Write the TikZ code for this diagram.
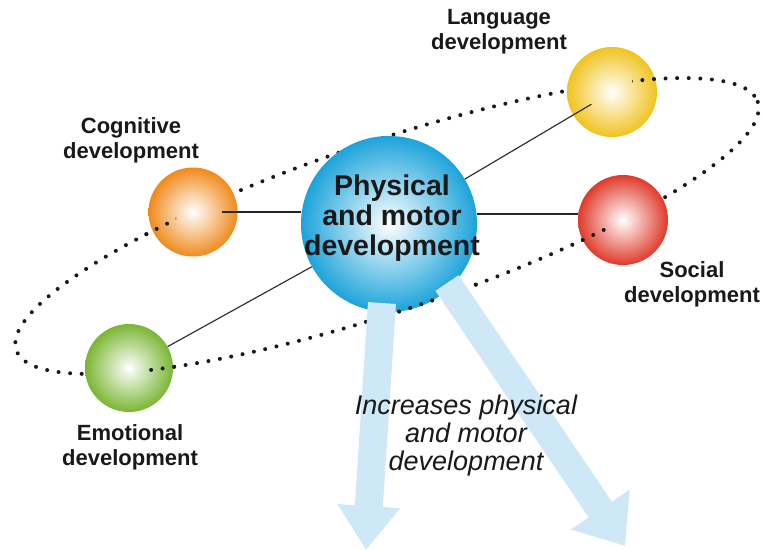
\documentclass[tikz,border=0pt]{standalone}
\usepackage{fontspec}
\setmainfont{Liberation Sans}
\usetikzlibrary{arrows.meta}

\definecolor{physblue}{RGB}{28,163,218}
\definecolor{cogorange}{RGB}{240,138,28}
\definecolor{langyellow}{RGB}{240,195,30}
\definecolor{socred}{RGB}{224,58,42}
\definecolor{emogreen}{RGB}{122,182,50}
\definecolor{arrowblue}{RGB}{207,232,247}
\definecolor{inktext}{RGB}{25,25,25}

\tikzset{
	sphere/.style={circle, draw=none, inner sep=0pt, inner color=white, outer color=#1},
	lbl/.style={font=\bfseries\fontsize{22}{25}\selectfont, align=center, inner sep=0pt, text=inktext},
	maintxt/.style={font=\bfseries\fontsize{28.5}{30}\selectfont, align=center, inner sep=0pt, text=inktext},
	note/.style={font=\itshape\fontsize{27}{28}\selectfont, align=center, inner sep=0pt, text=inktext},
	link/.style={line width=1.1pt, black!85},
	orbit/.style={line width=4pt, line cap=round, dash pattern=on 0pt off 11.6pt, black!90},
	bigarrow/.style={line width=28pt, arrowblue, -{Triangle[width=#1, length=44pt]}}
}
\newcommand{\orbitline}{\draw[orbit, rotate around={18.5:(387,226)}] (387,226) ellipse [x radius=391, y radius=85];}

\begin{document}
\begin{tikzpicture}[x=1pt, y=-1pt]
			%%%%% START %%%%%
			\useasboundingbox (0,0) rectangle (764,550);
			\fill[white] (0,0) rectangle (764,550);
			
			% orbit behind the spheres
			\orbitline
			
			\node[sphere=physblue, minimum size=176pt] (phys) at (389,224) {};
			\node[sphere=cogorange, minimum size=89pt] (cog) at (193,212) {};
			\node[sphere=langyellow, minimum size=90pt] (lang) at (612,92) {};
			\node[sphere=socred, minimum size=90pt] (soc) at (623,220) {};
			\node[sphere=emogreen, minimum size=88pt] (emo) at (129,368) {};
			
			% orbit in front
			\foreach \ax/\ay/\bx/\by in {330/268/480/322, 138/198/176/252, 144/348/182/388, 572/224/606/268, 632/68/662/102}{
				\begin{scope}
					\clip (\ax,\ay) rectangle (\bx,\by);
					\orbitline
				\end{scope}
			}
			
			\draw[link] ([xshift=29pt]cog.center) -- (cog.center -| phys.west);
			\draw[link, shorten <=24pt] (lang.center) -- (phys);
			\draw[link] ([yshift=6pt]soc.west) -- ([yshift=6pt]soc.west -| phys.east);
			\draw[link] (emo) -- (phys);
			
			\coordinate (tipL) at (366,550);
			\coordinate (tipR) at (625,546);
			\draw[bigarrow=60pt] ([shift={(-7,79)}]phys.center) -- (tipL);
			\draw[bigarrow=68pt] ([shift={(58,59)}]phys.center) -- (tipR);
			
			\node[maintxt] (phystxt) at (392,218) {Physical\\and motor\\development};
			\node[lbl] (langtxt) at (499,32) {Language\\development};
			\node[lbl] (cogtxt) at (131,140) {Cognitive\\development};
			\node[lbl] (soctxt) at (692,284) {Social\\development};
			\node[lbl] (emotxt) at (130,447) {Emotional\\development};
			\node[note] (incr) at (466,436) {Increases physical\\and motor\\development};
			%%%%% END %%%%%
\end{tikzpicture}
\end{document}
